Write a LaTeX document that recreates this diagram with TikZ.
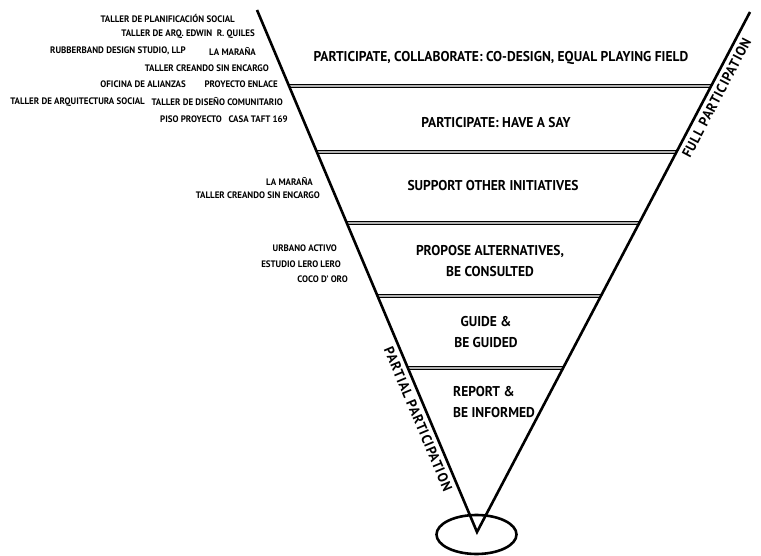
\documentclass[tikz,border=0pt]{standalone}
\usepackage{fontspec}
\setmainfont{PT Sans}[FakeStretch=0.95]
\newfontfamily\spacedfont{PT Sans}[FakeStretch=0.95, LetterSpace=6]
\usetikzlibrary{calc,shapes.geometric}

\begin{document}
\begin{tikzpicture}[x=1pt, y=-1pt, font=\bfseries]
\tikzstyle{funnel}=[line width=2.6pt, line join=miter]
\tikzstyle{divider}=[double=gray!60, double distance=1.6pt, line width=1.1pt]
\tikzstyle{band}=[align=center, inner sep=1pt, font=\bfseries\fontsize{14.2}{21.5}\selectfont]
\tikzstyle{actor}=[anchor=east, inner sep=0pt, font=\bfseries\fontsize{9.4}{10}\selectfont]
\tikzstyle{axis}=[inner sep=2pt, font=\spacedfont\bfseries\fontsize{14}{15}\selectfont]
\useasboundingbox (0,0) rectangle (761,556);
\coordinate (ltop) at (257,10);
\coordinate (rtop) at (750,12);
\coordinate (apex) at (477,532);
% levels
\foreach \y in {86,152,223,296,368}
  \draw[divider] ($(ltop)!{(\y-10)/522}!(apex)$) -- ($(rtop)!{(\y-12)/520}!(apex)$);
\node[band] (codesign) at (501,58) {PARTICIPATE, COLLABORATE: CO-DESIGN, EQUAL PLAYING FIELD};
\node[band] (say) at (496,123) {PARTICIPATE: HAVE A SAY};
\node[band] (support) at (493,186) {SUPPORT OTHER INITIATIVES};
\node[band] (propose) at (490,261) {PROPOSE ALTERNATIVES,\\ BE CONSULTED};
\node[band] (guide) at (486,332) {GUIDE \&\\ BE GUIDED};
\node[band, align=left, anchor=west] (report) at (452,402) {REPORT \&\\ BE INFORMED};
% funnel
\draw[funnel] (ltop) -- (apex) -- (rtop);
\node[draw, ellipse, line width=2.6pt, minimum width=80pt, minimum height=39pt] (hole) at (476.5,534.5) {};
\path (ltop) -- (apex) node[axis, pos=0.776, sloped, below=3pt] (partial) {PARTIAL PARTICIPATION};
\path (apex) -- (rtop) node[axis, pos=0.844, sloped, below=3pt] (full) {FULL PARTICIPATION};
% initiatives
\node[actor] (plan) at (235,18) {TALLER DE PLANIFICACIÓN SOCIAL};
\node[actor] (quiles) at (255,34) {TALLER DE ARQ. EDWIN\ \ R. QUILES};
\node[actor] (rubber) at (186,51) {RUBBERBAND DESIGN STUDIO, LLP};
\node[actor] (marana) at (256,51) {LA MARAÑA};
\node[actor] (creando) at (269,68) {TALLER CREANDO SIN ENCARGO};
\node[actor] (alianzas) at (186,84) {OFICINA DE ALIANZAS};
\node[actor] (enlace) at (278,84) {PROYECTO ENLACE};
\node[actor] (arqsoc) at (145,102) {TALLER DE ARQUITECTURA SOCIAL};
\node[actor] (diseno) at (283,102) {TALLER DE DISEÑO COMUNITARIO};
\node[actor] (piso) at (222,119) {PISO PROYECTO};
\node[actor] (taft) at (288,119) {CASA TAFT 169};
\node[actor] (marana2) at (313,181) {LA MARAÑA};
\node[actor] (creando2) at (320,195) {TALLER CREANDO SIN ENCARGO};
\node[actor] (urbano) at (337,248) {URBANO ACTIVO};
\node[actor] (lero) at (341,264) {ESTUDIO LERO LERO};
\node[actor] (coco) at (348,279) {COCO D' ORO};
\end{tikzpicture}
\end{document}
